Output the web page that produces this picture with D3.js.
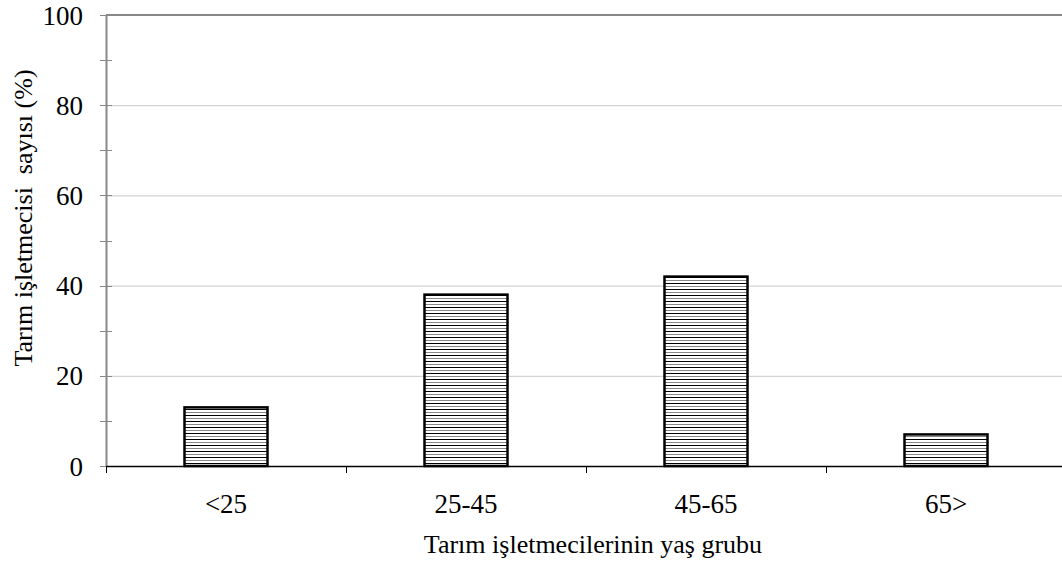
<!DOCTYPE html>
<html><head><meta charset="utf-8">
<script src="https://cdn.jsdelivr.net/npm/d3@7"></script>
<style>body{margin:0;background:#fff;} svg{display:block;} text{font-family:"Liberation Serif", serif;}</style>
</head><body>
<script>
const categories = ["<25", "25-45", "45-65", "65>"];
const values = [13, 38, 42, 7];
const yTicks = [0, 20, 40, 60, 80, 100];
const yMinorTicks = [10, 30, 50, 70, 90];
const xTitle = "Tarım işletmecilerinin yaş grubu";
const yTitle = "Tarım işletmecisi  sayısı (%)";

const W = 1062, H = 567;
const m = {left: 106, top: 15, bottom: 101};
const svg = d3.select("body").append("svg").attr("width", W).attr("height", H);
const font = "Liberation Serif";

const defs = svg.append("defs");
const pat = defs.append("pattern").attr("id", "hatch").attr("patternUnits", "userSpaceOnUse")
  .attr("width", 8).attr("height", 6);
pat.append("rect").attr("width", 8).attr("height", 6).attr("fill", "#fff");
pat.append("line").attr("x1", 0).attr("x2", 8).attr("y1", 1.5).attr("y2", 1.5).attr("stroke", "#000").attr("stroke-width", 1);
pat.append("line").attr("x1", 0).attr("x2", 8).attr("y1", 4.5).attr("y2", 4.5).attr("stroke", "#888").attr("stroke-width", 1);

const x = d3.scaleBand().domain(categories).range([m.left, m.left + 960]).paddingInner(0).paddingOuter(0);
const y = d3.scaleLinear().domain([0, 100]).range([H - m.bottom, m.top]);

// gridlines
svg.append("g").selectAll("line").data(yTicks.filter(d => d > 0 && d < 100)).join("line")
  .attr("x1", m.left).attr("x2", W).attr("y1", d => y(d) + 0.5).attr("y2", d => y(d) + 0.5)
  .attr("stroke", "#c8c8c8").attr("stroke-width", 1);
// top border
svg.append("line").attr("x1", m.left).attr("x2", W).attr("y1", y(100)).attr("y2", y(100))
  .attr("stroke", "#888").attr("stroke-width", 2);

// y axis
const yAxis = d3.axisLeft(y).tickValues(yTicks).tickSize(0).tickPadding(23);
const gy = svg.append("g").attr("transform", `translate(${m.left},0)`).call(yAxis);
gy.attr("font-family", font);
gy.select(".domain").attr("stroke", "#888").attr("stroke-width", 2);
gy.selectAll("text").attr("font-family", font).attr("font-size", 27).attr("fill", "#000").attr("dy", "0.34em");
// ticks (crossing)
svg.append("g").selectAll("line").data(yTicks.concat(yMinorTicks)).join("line")
  .attr("x1", m.left - 6).attr("x2", m.left + 6).attr("y1", d => Math.round(y(d)) + 0.5).attr("y2", d => Math.round(y(d)) + 0.5)
  .attr("stroke", "#888").attr("stroke-width", 1);

// bars
const bw = 83;
svg.append("g").selectAll("rect").data(values).join("rect")
  .attr("x", (d, i) => x(categories[i]) + x.bandwidth() / 2 - bw / 2)
  .attr("y", d => y(d))
  .attr("width", bw)
  .attr("height", d => y(0) - y(d))
  .attr("fill", "url(#hatch)")
  .attr("stroke", "#000").attr("stroke-width", 2.5);

// x axis
const xAxis = d3.axisBottom(x).tickSize(0).tickPadding(0);
const gx = svg.append("g").attr("transform", `translate(0,${y(0)})`).call(xAxis);
gx.attr("font-family", font);
gx.select(".domain").attr("stroke", "#000").attr("stroke-width", 1.5);
gx.selectAll("text").attr("font-family", font).attr("font-size", 27).attr("fill", "#000")
  .attr("y", 47).attr("dy", 0);
// boundary ticks
const bounds = categories.map(c => x(c));
svg.append("g").selectAll("line").data(bounds).join("line")
  .attr("x1", d => Math.round(d) + 0.5).attr("x2", d => Math.round(d) + 0.5)
  .attr("y1", y(0)).attr("y2", y(0) + 7).attr("stroke", "#000").attr("stroke-width", 1);

// titles
svg.append("text").attr("x", 593).attr("y", 553).attr("text-anchor", "middle")
  .attr("font-family", font).attr("font-size", 26).attr("fill", "#000").text(xTitle);
svg.append("text").attr("transform", `translate(32,218) rotate(-90)`)
  .attr("text-anchor", "middle").attr("font-family", font).attr("font-size", 26).attr("fill", "#000")
  .attr("xml:space", "preserve").style("white-space", "pre").text(yTitle);
</script>
</body></html>
